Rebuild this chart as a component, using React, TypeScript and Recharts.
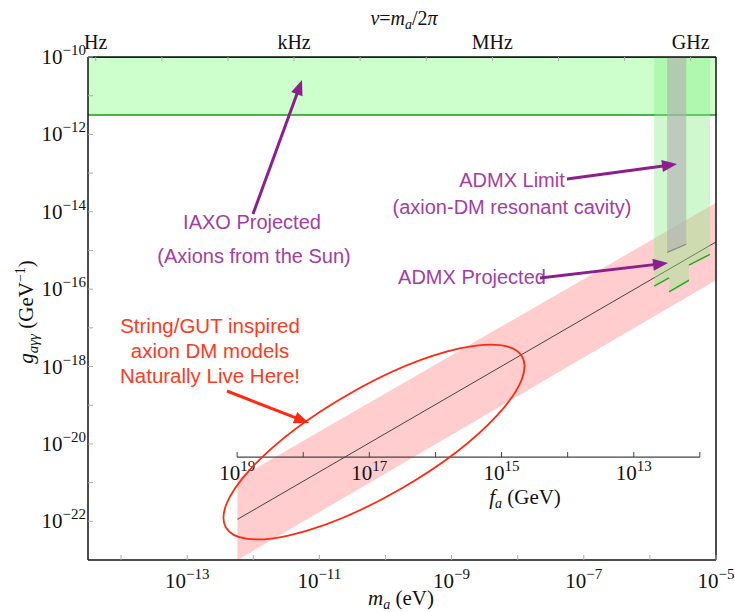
import React from "react";
import { ComposedChart, Area, Line, Scatter, XAxis, YAxis, ReferenceLine } from "recharts";

// all values are log10: mass in eV, coupling in GeV^-1
const LOG_M_RANGE = [-14.5, -5];
const LOG_G_RANGE = [-23, -10];
const MASS_TICKS = [-14, -13, -12, -11, -10, -9, -8, -7, -6, -5];
const MASS_LABELS = [-13, -11, -9, -7, -5];
const G_TICKS = [-22, -21, -20, -19, -18, -17, -16, -15, -14, -13, -12, -11, -10];
const G_LABELS = [-22, -20, -18, -16, -14, -12, -10];

// frequency axis: nu = m / h, log10(h / eV s) = -14.383
const LOG_H = -14.383;
const FREQ_TICKS = [0, 1, 2, 3, 4, 5, 6, 7, 8, 9];
const FREQ_NAMES: Record<number, string> = { 0: "Hz", 3: "kHz", 6: "MHz", 9: "GHz" };

// IAXO projected band
const iaxoLogM = [-14.5, -5];
const iaxoLogG = [-11.5, -10];

// string/GUT model band and its central line
const modelLogM = [-12.24, -5];
const modelLogGLow = [-23, -15.77];
const modelLogGHigh = [-20.9, -13.77];
const modelLogGMid = [-21.95, -14.78];

// ADMX projected (stepped lower edge)
const admxProjLogM = [-5.935, -5.71, -5.71, -5.41, -5.41, -5.09];
const admxProjLogG = [-15.92, -15.71, -16.07, -15.77, -15.38, -15.1];

// ADMX limit
const admxLimLogM = [-5.74, -5.45];
const admxLimLogG = [-15.05, -14.84];

// f_a axis drawn inside the plot: m_a = 5.7 ueV * (1e12 GeV / f_a)
const FA_EXPS = [19, 18, 17, 16, 15, 14, 13, 12];
const FA_LABELS = [19, 17, 15, 13];
const FA_AXIS_LOG_G = -20.34;
const LOG_M_AT_FA12 = Math.log10(5.7e-6);

const TOP = LOG_G_RANGE[1];

const iaxoData = iaxoLogM.map((x) => ({ x, r: [iaxoLogG[0], iaxoLogG[1]], y: iaxoLogG[0] }));
// same band edge in frequency units, keeps the top axis tied to the data
const iaxoFreqData = iaxoLogM.map((m) => ({ x: m - LOG_H, y: iaxoLogG[1] }));
const modelData = modelLogM.map((x, i) => ({ x, r: [modelLogGLow[i], modelLogGHigh[i]], y: modelLogGMid[i] }));
const admxProjData = admxProjLogM.map((x, i) => ({ x, r: [admxProjLogG[i], TOP], y: admxProjLogG[i] }));
const admxSegments = [0, 2, 4].map((i) => admxProjData.slice(i, i + 2));
const admxLimData = admxLimLogM.map((x, i) => ({ x, r: [admxLimLogG[i], TOP], y: admxLimLogG[i] }));
const faData = FA_EXPS.map((fa) => ({ x: LOG_M_AT_FA12 + 12 - fa, y: FA_AXIS_LOG_G, fa }));

const SERIF = "'Liberation Serif', 'Times New Roman', serif";
const SANS = "'Liberation Sans', Arial, Helvetica, sans-serif";
const PURPLE_TEXT = "#a23ea4";
const PURPLE = "#8c1f8e";
const RED = "#ff3a22";
const NUM = 21;
const EXP = 15;

const sup = (n: number) => (n < 0 ? "\u2212" + Math.abs(n) : String(n));

function MassTick(props: any) {
  const { x, y, payload } = props;
  const v = payload.value;
  return (
    <g>
      <line x1={x} x2={x} y1={y} y2={y - 5} stroke="#aaa" />
      {MASS_LABELS.includes(v) && (
        <text x={x} y={y + 28} textAnchor="middle" fontFamily={SERIF} fontSize={NUM} fill="#111">
          10<tspan dy={-9} fontSize={EXP}>{sup(v)}</tspan>
        </text>
      )}
    </g>
  );
}

function CouplingTick(props: any) {
  const { x, y, payload } = props;
  const v = payload.value;
  return (
    <g>
      <line x1={x} x2={x + 5} y1={y} y2={y} stroke="#aaa" />
      {G_LABELS.includes(v) && (
        <text x={x - 2} y={y + 7} textAnchor="end" fontFamily={SERIF} fontSize={NUM} fill="#111">
          10<tspan dy={-9} fontSize={EXP}>{sup(v)}</tspan>
        </text>
      )}
    </g>
  );
}

function FreqTick(props: any) {
  const { x, y, payload } = props;
  const name = FREQ_NAMES[payload.value];
  return (
    <g>
      <line x1={x} x2={x} y1={y} y2={y + 4} stroke="#aaa" />
      {name && (
        <text x={x} y={y - 8} textAnchor="middle" fontFamily={SERIF} fontSize={20} fill="#111">
          {name}
        </text>
      )}
    </g>
  );
}

function FaTick(props: any) {
  const { cx, cy, payload } = props;
  return (
    <g>
      <line x1={cx} x2={cx} y1={cy} y2={cy - 5} stroke="#444" />
      {FA_LABELS.includes(payload.fa) && (
        <text x={cx} y={cy + 23} textAnchor="middle" fontFamily={SERIF} fontSize={NUM} fill="#111">
          10<tspan dy={-9} fontSize={EXP}>{payload.fa}</tspan>
        </text>
      )}
    </g>
  );
}

function Arrow({ from, to, color, width = 3, head = 15, headW = 12 }: any) {
  const dx = to[0] - from[0];
  const dy = to[1] - from[1];
  const len = Math.hypot(dx, dy);
  const ux = dx / len;
  const uy = dy / len;
  const bx = to[0] - ux * head;
  const by = to[1] - uy * head;
  const px = (-uy * headW) / 2;
  const py = (ux * headW) / 2;
  return (
    <g>
      <line x1={from[0]} y1={from[1]} x2={bx + ux} y2={by + uy} stroke={color} strokeWidth={width} />
      <polygon points={`${to[0]},${to[1]} ${bx + px},${by + py} ${bx - px},${by - py}`} fill={color} />
    </g>
  );
}

function Overlay() {
  return (
    <svg width={735} height={612} style={{ position: "absolute", left: 0, top: 0, pointerEvents: "none" }}>
      {/* axis titles */}
      <text x={404} y={25} textAnchor="middle" fontFamily={SERIF} fontSize={20} fill="#111">
        <tspan fontStyle="italic">ν</tspan>=<tspan fontStyle="italic">m</tspan>
        <tspan dy={4} fontSize={14} fontStyle="italic">a</tspan>
        <tspan dy={-4}>/2</tspan><tspan fontStyle="italic">π</tspan>
      </text>
      <text x={401} y={605} textAnchor="middle" fontFamily={SERIF} fontSize={21} fill="#111">
        <tspan fontStyle="italic">m</tspan>
        <tspan dy={4} fontSize={14} fontStyle="italic">a</tspan>
        <tspan dy={-4}> (eV)</tspan>
      </text>
      <text transform="translate(33,312) rotate(-90)" textAnchor="middle" fontFamily={SERIF} fontSize={21} fill="#111">
        <tspan fontStyle="italic">g</tspan>
        <tspan dy={5} fontSize={15} fontStyle="italic">aγγ</tspan>
        <tspan dy={-5}> (GeV</tspan>
        <tspan dy={-8} fontSize={14}>−1</tspan>
        <tspan dy={8}>)</tspan>
      </text>
      <text x={525} y={504} textAnchor="middle" fontFamily={SERIF} fontSize={21} fill="#111">
        <tspan fontStyle="italic">f</tspan>
        <tspan dy={4} fontSize={14} fontStyle="italic">a</tspan>
        <tspan dy={-4}> (GeV)</tspan>
      </text>

      {/* annotations */}
      <g fontFamily={SANS} fontSize={20} textAnchor="middle" fill={PURPLE_TEXT}>
        <text x={252} y={229}>IAXO Projected</text>
        <text x={254} y={263}>(Axions from the Sun)</text>
        <text x={512} y={187}>ADMX Limit</text>
        <text x={512} y={214}>(axion-DM resonant cavity)</text>
        <text x={472} y={284}>ADMX Projected</text>
      </g>
      <g fontFamily={SANS} fontSize={20.5} textAnchor="middle" fill={RED}>
        <text x={210} y={333}>String/GUT inspired</text>
        <text x={210} y={358}>axion DM models</text>
        <text x={210} y={383}>Naturally Live Here!</text>
      </g>
      <Arrow from={[253, 214]} to={[302, 80]} color={PURPLE} />
      <Arrow from={[567, 179]} to={[677, 164]} color={PURPLE} />
      <Arrow from={[540, 278]} to={[668, 263]} color={PURPLE} />
      <Arrow from={[227, 391]} to={[309, 423]} color="#ff2a10" />
      <ellipse cx={374} cy={442} rx={171} ry={54} transform="rotate(-30 374 442)" fill="none" stroke="#ff2a10" strokeWidth={1.8} />
    </svg>
  );
}

export default function App() {
  return (
    <div style={{ position: "absolute", left: 0, top: 0, width: 735, height: 612, background: "#fff" }}>
      <ComposedChart width={735} height={612} margin={{ top: 0, right: 19, bottom: 0, left: 0 }}>
        <Area data={modelData} dataKey="r" type="linear" fill="#ff6666" fillOpacity={0.33} stroke="none" isAnimationActive={false} />
        <Line data={modelData} dataKey="y" type="linear" stroke="#333" strokeWidth={0.9} dot={false} isAnimationActive={false} />
        <Area data={iaxoData} dataKey="r" type="linear" fill="#99ff99" fillOpacity={0.5} stroke="none" isAnimationActive={false} />
        <Line data={iaxoData} dataKey="y" type="linear" stroke="#1a961a" strokeWidth={1.5} dot={false} isAnimationActive={false} />
        <Line data={iaxoFreqData} xAxisId="freq" dataKey="y" type="linear" stroke="#111" strokeWidth={1.5} dot={false} isAnimationActive={false} />
        <Area data={admxProjData} dataKey="r" type="linear" fill="#88ee88" fillOpacity={0.4} stroke="none" zIndex={450} isAnimationActive={false} />
        {admxSegments.map((seg, i) => (
          <Line key={i} data={seg} dataKey="y" type="linear" stroke="#22aa22" strokeWidth={1.5} dot={false} zIndex={460} isAnimationActive={false} />
        ))}
        <Area data={admxLimData} dataKey="r" type="linear" fill="#b0b0b0" fillOpacity={0.62} stroke="none" zIndex={470} isAnimationActive={false} />
        <Line data={admxLimData} dataKey="y" type="linear" stroke="#888" strokeWidth={1.2} dot={false} zIndex={480} isAnimationActive={false} />
        <Line data={faData} dataKey="y" type="linear" stroke="#444" strokeWidth={1.2} dot={false} isAnimationActive={false} />
        <Scatter data={faData} dataKey="y" shape={FaTick} isAnimationActive={false} />
        <ReferenceLine x={LOG_M_RANGE[1]} stroke="#111" strokeWidth={1.5} />
        <XAxis
          dataKey="x"
          type="number"
          domain={LOG_M_RANGE}
          allowDataOverflow
          ticks={MASS_TICKS}
          interval={0}
          height={52}
          tickSize={0}
          tickMargin={0}
          tickLine={false}
          axisLine={{ stroke: "#111", strokeWidth: 1.5 }}
          tick={MassTick}
        />
        <XAxis
          xAxisId="freq"
          dataKey="x"
          orientation="top"
          type="number"
          domain={[LOG_M_RANGE[0] - LOG_H, LOG_M_RANGE[1] - LOG_H]}
          allowDataOverflow
          ticks={FREQ_TICKS}
          interval={0}
          height={57}
          tickSize={0}
          tickMargin={0}
          tickLine={false}
          axisLine={{ stroke: "#111", strokeWidth: 1.5 }}
          tick={FreqTick}
        />
        <YAxis
          type="number"
          domain={LOG_G_RANGE}
          allowDataOverflow
          ticks={G_TICKS}
          interval={0}
          width={88}
          tickSize={0}
          tickMargin={0}
          tickLine={false}
          axisLine={{ stroke: "#111", strokeWidth: 1.5 }}
          tick={CouplingTick}
        />
      </ComposedChart>
      <Overlay />
    </div>
  );
}
